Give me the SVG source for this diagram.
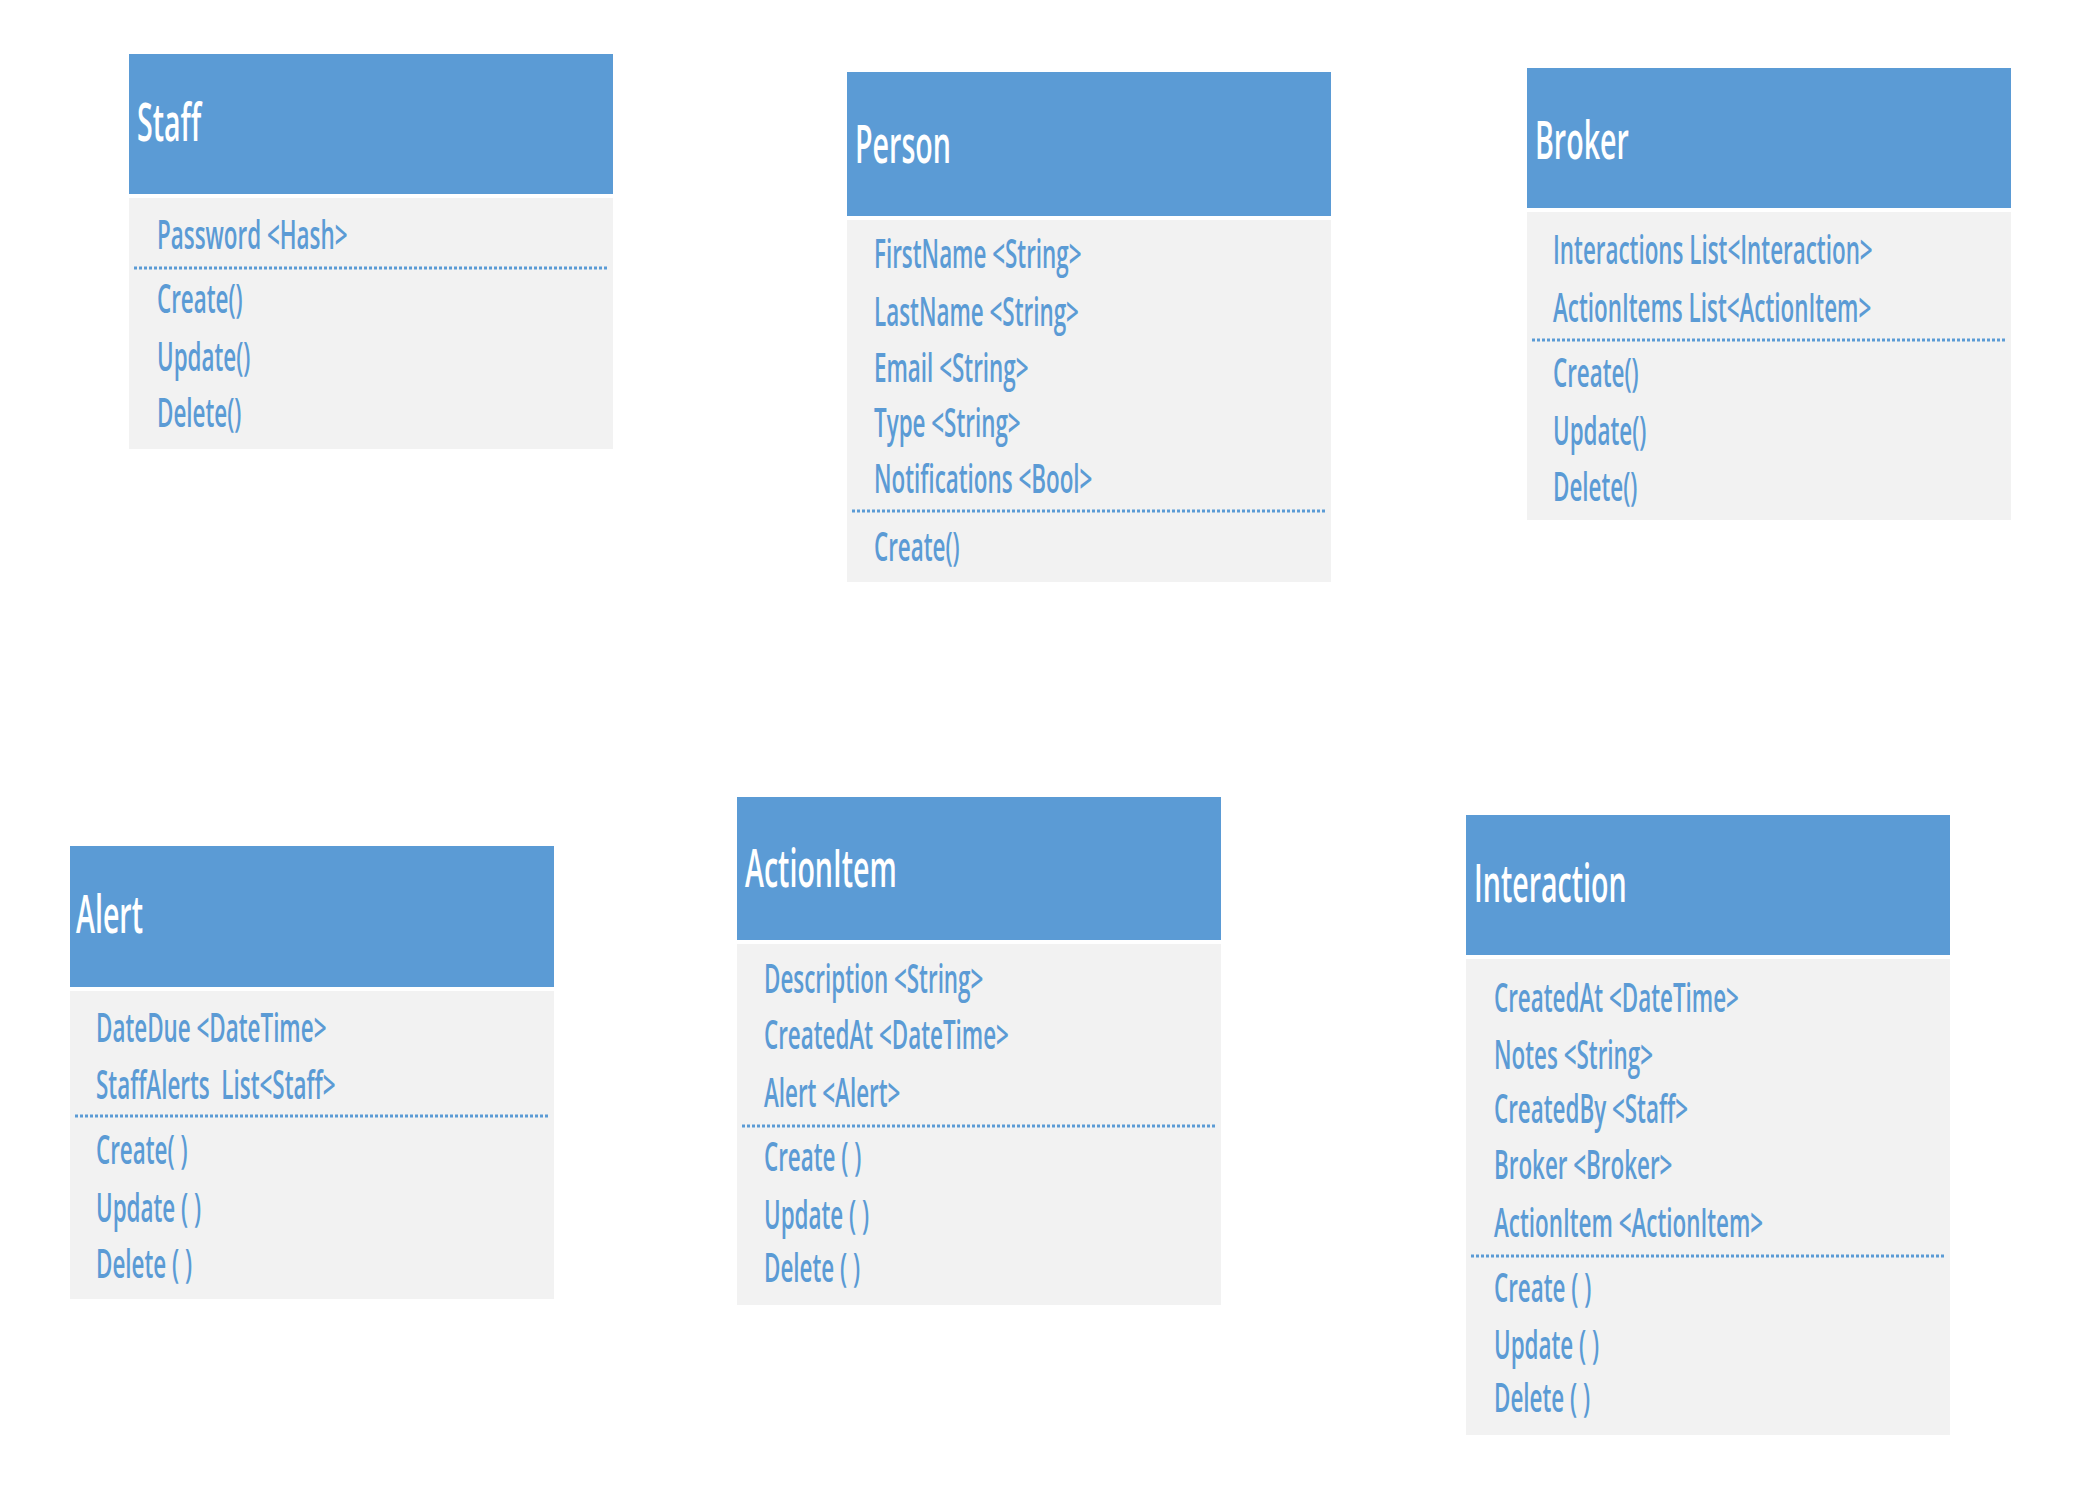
<svg xmlns="http://www.w3.org/2000/svg" width="2100" height="1500" viewBox="0 0 2100 1500">
<style>
.bg{fill:#ffffff}
.hd{fill:#5B9BD5}
.bd{fill:#F2F2F2}
.sep{stroke:#5B9BD5;stroke-width:3;stroke-dasharray:3 2;fill:none}
.title{font-family:"Open Sans","Noto Sans","DejaVu Sans",sans-serif;font-size:52px;font-weight:600;fill:#ffffff;dominant-baseline:central}
.attr{font-family:"Open Sans","Noto Sans","DejaVu Sans",sans-serif;font-size:40px;font-weight:600;fill:#5B9BD5;dominant-baseline:central}
</style>
<rect class="bg" x="0" y="0" width="2100" height="1500"/>
<g id="connectors"></g>

<g id="staff">
  <rect class="hd" x="129" y="54" width="484" height="140"/>
  <rect class="bd" x="129" y="198" width="484" height="251"/>
  <line class="sep" x1="134" y1="268" x2="608" y2="268"/>
  <g transform="translate(137 0) scale(0.55 1)"><text class="title" y="121">Staff</text></g>
  <g transform="translate(157 0) scale(0.56 1)">
    <text class="attr" y="233">Password &lt;Hash&gt;</text>
    <text class="attr" y="297">Create()</text>
    <text class="attr" y="355">Update()</text>
    <text class="attr" y="411">Delete()</text>
  </g>
</g>

<g id="person">
  <rect class="hd" x="847" y="72" width="484" height="144"/>
  <rect class="bd" x="847" y="220" width="484" height="362"/>
  <line class="sep" x1="852" y1="511" x2="1326" y2="511"/>
  <g transform="translate(855 0) scale(0.55 1)"><text class="title" y="143">Person</text></g>
  <g transform="translate(874 0) scale(0.56 1)">
    <text class="attr" y="252">FirstName &lt;String&gt;</text>
    <text class="attr" y="310">LastName &lt;String&gt;</text>
    <text class="attr" y="366">Email &lt;String&gt;</text>
    <text class="attr" y="421">Type &lt;String&gt;</text>
    <text class="attr" y="477">Notifications &lt;Bool&gt;</text>
    <text class="attr" y="545">Create()</text>
  </g>
</g>

<g id="broker">
  <rect class="hd" x="1527" y="68" width="484" height="140"/>
  <rect class="bd" x="1527" y="212" width="484" height="308"/>
  <line class="sep" x1="1532" y1="340" x2="2006" y2="340"/>
  <g transform="translate(1535 0) scale(0.55 1)"><text class="title" y="139">Broker</text></g>
  <g transform="translate(1553 0) scale(0.56 1)">
    <text class="attr" y="248">Interactions List&lt;Interaction&gt;</text>
    <text class="attr" y="306">ActionItems List&lt;ActionItem&gt;</text>
    <text class="attr" y="371">Create()</text>
    <text class="attr" y="429">Update()</text>
    <text class="attr" y="485">Delete()</text>
  </g>
</g>

<g id="alert">
  <rect class="hd" x="70" y="846" width="484" height="141"/>
  <rect class="bd" x="70" y="991" width="484" height="308"/>
  <line class="sep" x1="75" y1="1116" x2="549" y2="1116"/>
  <g transform="translate(76 0) scale(0.55 1)"><text class="title" y="913">Alert</text></g>
  <g transform="translate(96 0) scale(0.56 1)">
    <text class="attr" y="1026">DateDue &lt;DateTime&gt;</text>
    <text class="attr" y="1083" xml:space="preserve">StaffAlerts  List&lt;Staff&gt;</text>
    <text class="attr" y="1148">Create( )</text>
    <text class="attr" y="1206">Update ( )</text>
    <text class="attr" y="1262">Delete ( )</text>
  </g>
</g>

<g id="actionitem">
  <rect class="hd" x="737" y="797" width="484" height="143"/>
  <rect class="bd" x="737" y="944" width="484" height="361"/>
  <line class="sep" x1="742" y1="1126" x2="1216" y2="1126"/>
  <g transform="translate(745 0) scale(0.55 1)"><text class="title" y="867">ActionItem</text></g>
  <g transform="translate(764 0) scale(0.56 1)">
    <text class="attr" y="977">Description &lt;String&gt;</text>
    <text class="attr" y="1033">CreatedAt &lt;DateTime&gt;</text>
    <text class="attr" y="1091">Alert &lt;Alert&gt;</text>
    <text class="attr" y="1155">Create ( )</text>
    <text class="attr" y="1213">Update ( )</text>
    <text class="attr" y="1266">Delete ( )</text>
  </g>
</g>

<g id="interaction">
  <rect class="hd" x="1466" y="815" width="484" height="140"/>
  <rect class="bd" x="1466" y="959" width="484" height="476"/>
  <line class="sep" x1="1471" y1="1256" x2="1945" y2="1256"/>
  <g transform="translate(1474 0) scale(0.55 1)"><text class="title" y="882">Interaction</text></g>
  <g transform="translate(1494 0) scale(0.56 1)">
    <text class="attr" y="996">CreatedAt &lt;DateTime&gt;</text>
    <text class="attr" y="1053">Notes &lt;String&gt;</text>
    <text class="attr" y="1107">CreatedBy &lt;Staff&gt;</text>
    <text class="attr" y="1163">Broker &lt;Broker&gt;</text>
    <text class="attr" y="1221">ActionItem &lt;ActionItem&gt;</text>
    <text class="attr" y="1286">Create ( )</text>
    <text class="attr" y="1343">Update ( )</text>
    <text class="attr" y="1396">Delete ( )</text>
  </g>
</g>
</svg>
